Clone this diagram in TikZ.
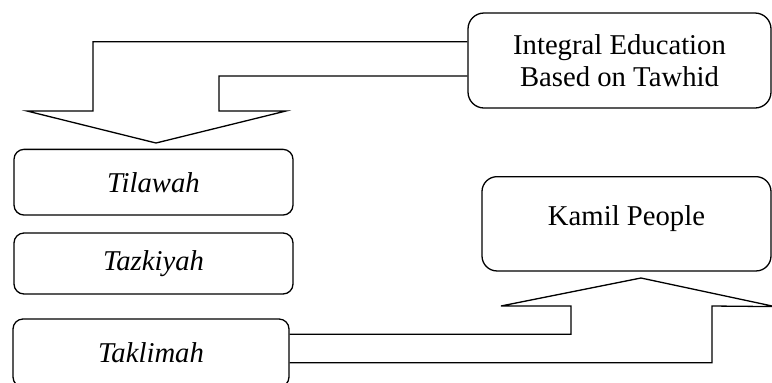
\documentclass[tikz,border=0pt]{standalone}
\usepackage{fontspec}
\setmainfont{Liberation Serif}
\begin{document}
\begin{tikzpicture}[x=0.5pt,y=-0.5pt,
  box/.style={draw, line width=0.65pt, inner sep=0pt, align=center,
    font=\fontsize{14.35}{16}\selectfont},
  smallbox/.style={box, rounded corners=5pt, font=\fontsize{14.35}{16}\selectfont\itshape},
  blockarrow/.style={draw, line width=0.65pt, line join=miter}]
\clip (0,0) rectangle (772,382);
\node[box, rounded corners=8pt, minimum width=151.5pt, minimum height=47.5pt] (ied) at (619.5,60.5) {Integral Education\\Based on Tawhid};
\node[box, rounded corners=7.5pt, minimum width=144.5pt, minimum height=47.15pt, text depth=8pt] (kamil) at (626.5,223.8) {Kamil People};
\node[smallbox, minimum width=139.5pt, minimum height=32.85pt] (til) at (153.5,182.2) {Tilawah};
\node[smallbox, minimum width=139.5pt, minimum height=30.5pt] (taz) at (153.5,263.5) {Tazkiyah};
\node[smallbox, minimum width=138pt, minimum height=34pt] (tak) at (151,353) {Taklimah};
% top block arrow
\coordinate (t1) at (0,41.7);
\coordinate (t2) at (0,76);
\draw[blockarrow] (ied.west |- t1) -- (93,41.7) -- (93,111) -- (27,111) -- (156,143)
  -- (286,111) -- (219,111) -- (219,76) -- (ied.west |- t2);
% bottom block arrow
\coordinate (b1) at (0,334.3);
\coordinate (b2) at (0,362.7);
\draw[blockarrow] (tak.east |- b1) -- (571,334.3) -- (571,306) -- (501,306) -- (641,278)
  -- (775,306.6) -- (712,306) -- (712,362.7) -- (tak.east |- b2);
\end{tikzpicture}
\end{document}
